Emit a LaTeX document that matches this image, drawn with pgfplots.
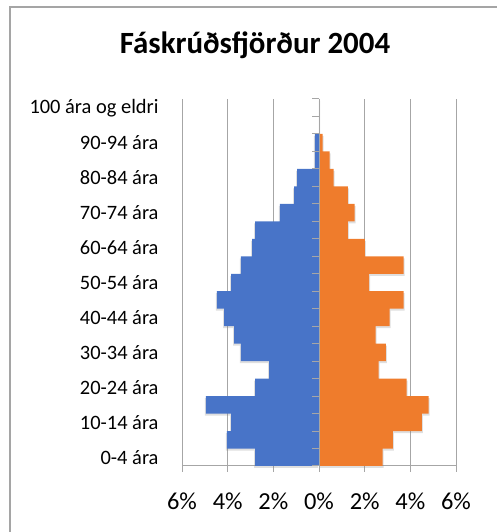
\documentclass[border=0pt]{standalone}
\usepackage{fontspec}
\setmainfont{Carlito}
\usepackage{pgfplots}
\pgfplotsset{compat=1.18}
\usetikzlibrary{shadows}
\definecolor{gridgray}{RGB}{166,166,166}
\definecolor{bordergray}{RGB}{165,165,165}
\definecolor{barblue}{RGB}{72,116,200}
\definecolor{barorange}{RGB}{239,124,44}
\pgfplotstableread{
idx male female
0 -2.80 2.79
1 -4.03 3.23
2 -3.85 4.50
3 -4.95 4.80
4 -2.80 3.84
5 -2.19 2.61
6 -3.42 2.93
7 -3.72 2.48
8 -4.16 3.09
9 -4.47 3.71
10 -3.85 2.19
11 -3.42 3.71
12 -2.93 2.01
13 -2.80 1.26
14 -1.71 1.56
15 -1.09 1.26
16 -0.96 0.64
17 -0.18 0.47
18 -0.18 0.16
19 0 0
20 0 0
}\pyramid
\begin{document}
\begin{tikzpicture}[x=1bp,y=1bp]
\path[use as bounding box] (0,0) rectangle (497,532);
% chart border
\fill[bordergray] (9.3,0) rectangle (10.8,525.5);
\fill[bordergray] (9.3,524) rectangle (497,525.5);
\node[anchor=base, font=\bfseries\fontsize{31}{36}\selectfont] at (255,478) {Fáskrúðsfjörður 2004};
\begin{axis}[
  at={(182bp,66bp)}, anchor=south west,
  width=274bp, height=367bp, scale only axis,
  xbar, bar width=1, bar shift=0,
  xmin=-6, xmax=6, ymin=-0.5, ymax=20.5,
  xtick={-6,-4,-2,0,2,4,6},
  xticklabels={6\%,4\%,2\%,0\%,2\%,4\%,6\%},
  ytick={0,2,4,6,8,10,12,14,16,18,20},
  yticklabels={0-4 ára,10-14 ára,20-24 ára,30-34 ára,40-44 ára,50-54 ára,60-64 ára,70-74 ára,80-84 ára,90-94 ára,100 ára og eldri},
  axis x line*=bottom, axis y line*=left,
  separate axis lines,
  x axis line style={draw=gridgray, line width=1bp},
  y axis line style={draw=none},
  ytick style={draw=none},
  xtick style={draw=gridgray, line width=1bp},
  tick align=outside,
  major tick length=6bp,
  xmajorgrids,
  major grid style={draw=gridgray, line width=1bp},
  xticklabel style={font=\fontsize{24.5}{28}\selectfont, yshift=-17bp},
  yticklabel style={font=\fontsize{20.5}{24}\selectfont, anchor=east, xshift=-14bp},
  clip=false,
]
\addplot[draw=none, fill=barblue,
  drop shadow={shadow xshift=-1bp, shadow yshift=-2bp, opacity=0.25}]
  table[x=male, y=idx] {\pyramid};
\addplot[draw=none, fill=barorange,
  drop shadow={shadow xshift=1bp, shadow yshift=-2bp, opacity=0.25}]
  table[x=female, y=idx] {\pyramid};
\draw[gridgray, line width=1bp] (axis cs:0,-0.5) -- (axis cs:0,20.5);
\pgfplotsinvokeforeach{-0.5,0.5,1.5,2.5,3.5,4.5,5.5,6.5,7.5,8.5,9.5,10.5,11.5,12.5,13.5,14.5,15.5,16.5,17.5,18.5,19.5,20.5}{
  \draw[gridgray, line width=1bp] (axis cs:0,#1) -- ([xshift=-7bp]axis cs:0,#1);
}
\end{axis}
\end{tikzpicture}
\end{document}
